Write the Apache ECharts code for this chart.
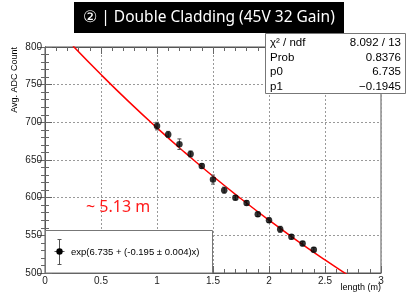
<!DOCTYPE html>
<html>
<head>
<meta charset="utf-8">
<script src="https://cdn.jsdelivr.net/npm/echarts@6/dist/echarts.min.js"></script>
<style>
html,body{margin:0;padding:0;background:#fff}
#chart{width:407px;height:296px}
</style>
</head>
<body>
<div id="chart"></div>
<script>
// measured points (length in m, avg ADC count, error)
var lengths = [1.0, 1.1, 1.2, 1.3, 1.4, 1.5, 1.6, 1.7, 1.8, 1.9, 2.0, 2.1, 2.2, 2.3, 2.4]
var adcCounts = [695, 684, 671, 658, 642, 624, 610, 600, 593, 578, 570, 558, 548, 539, 531]
var adcErrors = [5, 4, 7, 4, 3, 6, 4, 3, 3, 3, 3, 4, 3, 3, 3]

// fit curve
var fitX = [0.25, 0.5, 0.75, 1.0, 1.25, 1.5, 1.75, 2.0, 2.25, 2.5, 2.75]
var fitY = [801.4, 763.4, 727.1, 692.6, 659.8, 628.4, 598.6, 570.2, 543.1, 517.4, 492.8]

var xTicks = ['0', '0.5', '1', '1.5', '2', '2.5', '3']
var yTicks = ['500', '550', '600', '650', '700', '750', '800']

var statNames = ['χ² / ndf', 'Prob', 'p0', 'p1']
var statValues = ['8.092 / 13', '0.8376', '6.735', '−0.1945']

var labelFont = '"Liberation Sans", Arial, sans-serif'

var chart = echarts.init(document.getElementById('chart'))

var pts = lengths.map(function (x, i) { return [x, adcCounts[i], adcErrors[i]] })
var fitData = fitX.map(function (x, i) { return [x, fitY[i]] })

function axisBase(pos, isX) {
  return {
    type: 'value',
    position: pos,
    min: isX ? 0 : 500,
    max: isX ? 3 : 800,
    interval: isX ? 0.5 : 50,
    axisLine: { show: true, lineStyle: { color: '#555', width: 1 } },
    axisTick: { show: true, inside: true, length: 7, lineStyle: { color: '#666' } },
    minorTick: { show: true, splitNumber: 5, length: 4, lineStyle: { color: '#666' } },
    splitLine: { show: false },
    axisLabel: { show: false }
  }
}

var xMain = axisBase('bottom', true)
xMain.splitLine = { show: true, lineStyle: { color: '#999', type: [2, 2], width: 1 } }
xMain.axisLabel = {
  show: true, margin: 3, color: '#222', fontSize: 10, fontFamily: labelFont,
  formatter: function (v) { return xTicks[Math.round(v / 0.5)] }
}
var yMain = axisBase('left', false)
yMain.splitLine = { show: true, lineStyle: { color: '#999', type: [2, 2], width: 1 } }
yMain.axisLabel = {
  show: true, margin: 3, color: '#222', fontSize: 10, fontFamily: labelFont,
  formatter: function (v) { return yTicks[Math.round((v - 500) / 50)] }
}

var statTexts = []
statNames.forEach(function (n, i) {
  var y = 43 + i * 14.6
  statTexts.push({ type: 'text', x: 270, y: y, z: 101,
    style: { text: n, fill: '#000', font: '11.5px ' + labelFont, align: 'left', verticalAlign: 'middle' } })
  statTexts.push({ type: 'text', x: 401, y: y, z: 101,
    style: { text: statValues[i], fill: '#000', font: '11.5px ' + labelFont, align: 'right', verticalAlign: 'middle' } })
})

chart.setOption({
  animation: false,
  backgroundColor: '#fff',
  grid: {
    left: 45, top: 47, right: 26, bottom: 23,
    show: true, borderColor: '#555', borderWidth: 1, backgroundColor: '#fff',
    outerBoundsMode: 'none'
  },
  xAxis: [xMain, axisBase('top', true)],
  yAxis: [yMain, axisBase('right', false)],
  series: [
    {
      name: 'fit',
      type: 'line',
      data: fitData,
      smooth: true,
      showSymbol: false,
      clip: true,
      lineStyle: { color: '#ff0000', width: 1.5 },
      z: 3
    },
    {
      name: 'errors',
      type: 'custom',
      data: pts,
      clip: true,
      z: 4,
      renderItem: function (params, api) {
        var x = api.value(0), y = api.value(1), e = api.value(2)
        var top = api.coord([x, y + e])
        var bot = api.coord([x, y - e])
        var st = { stroke: '#555', lineWidth: 1 }
        return {
          type: 'group',
          children: [
            { type: 'line', shape: { x1: top[0], y1: top[1], x2: bot[0], y2: bot[1] }, style: st },
            { type: 'line', shape: { x1: top[0] - 2, y1: top[1], x2: top[0] + 2, y2: top[1] }, style: st },
            { type: 'line', shape: { x1: bot[0] - 2, y1: bot[1], x2: bot[0] + 2, y2: bot[1] }, style: st }
          ]
        }
      }
    },
    {
      name: 'data',
      type: 'scatter',
      data: pts,
      symbol: 'circle',
      symbolSize: 6.5,
      itemStyle: { color: '#000' },
      z: 5
    }
  ],
  graphic: [
    // title bar
    { type: 'rect', shape: { x: 74, y: 2, width: 270, height: 31 }, style: { fill: '#000' }, z: 100 },
    { type: 'text', x: 209, y: 17.5, z: 101,
      style: { text: '② | Double Cladding (45V 32 Gain)', fill: '#fff', font: '15.5px "Noto Sans", sans-serif', align: 'center', verticalAlign: 'middle' } },
    // stats box
    { type: 'rect', shape: { x: 265.5, y: 33.5, width: 140, height: 60 }, style: { fill: '#fff', stroke: '#777', lineWidth: 1 }, z: 100 }
  ].concat(statTexts).concat([
    // legend box
    { type: 'rect', shape: { x: 45.5, y: 230.5, width: 167, height: 42.5 }, style: { fill: '#fff', stroke: '#777', lineWidth: 1 }, z: 100 },
    { type: 'line', shape: { x1: 59.5, y1: 239.5, x2: 59.5, y2: 264.5 }, style: { stroke: '#555', lineWidth: 1 }, z: 101 },
    { type: 'line', shape: { x1: 57.5, y1: 239.5, x2: 61.5, y2: 239.5 }, style: { stroke: '#555', lineWidth: 1 }, z: 101 },
    { type: 'line', shape: { x1: 57.5, y1: 264.5, x2: 61.5, y2: 264.5 }, style: { stroke: '#555', lineWidth: 1 }, z: 101 },
    { type: 'line', shape: { x1: 54.5, y1: 251.5, x2: 64.5, y2: 251.5 }, style: { stroke: '#555', lineWidth: 1 }, z: 101 },
    { type: 'circle', shape: { cx: 59.5, cy: 251.5, r: 3.2 }, style: { fill: '#000' }, z: 102 },
    { type: 'text', x: 71, y: 252, z: 101,
      style: { text: 'exp(6.735 + (-0.195 ± 0.004)x)', fill: '#000', font: '9.5px ' + labelFont, align: 'left', verticalAlign: 'middle' } },
    // attenuation length note
    { type: 'text', x: 86, y: 207, z: 101,
      style: { text: '~ 5.13 m', fill: '#ff1a1a', font: '16px "Noto Sans", sans-serif', align: 'left', verticalAlign: 'middle' } },
    // axis titles
    { type: 'text', x: 15, y: 47, rotation: Math.PI / 2, z: 101,
      style: { text: 'Avg. ADC Count', fill: '#000', font: '9px ' + labelFont, align: 'right', verticalAlign: 'middle' } },
    { type: 'text', x: 381, y: 288, z: 101,
      style: { text: 'length (m)', fill: '#000', font: '9px ' + labelFont, align: 'right', verticalAlign: 'middle' } }
  ])
})
</script>
</body>
</html>
